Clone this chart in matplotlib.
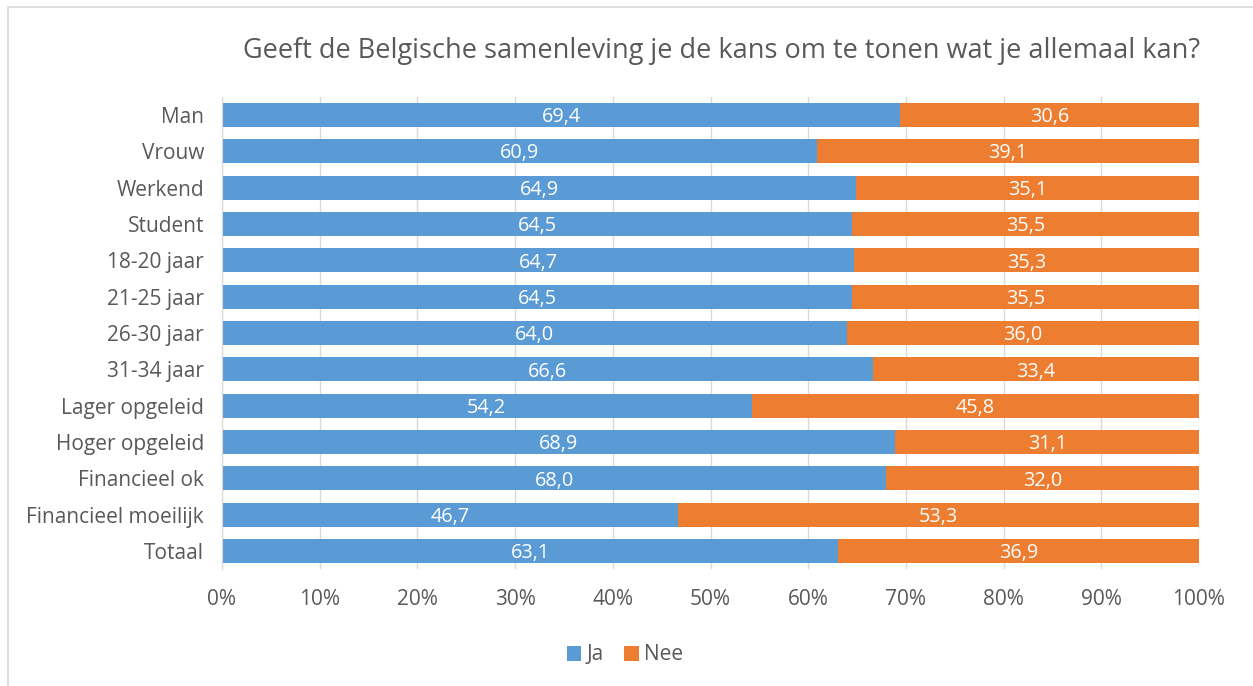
import matplotlib.pyplot as plt
from matplotlib.patches import Rectangle
from matplotlib.ticker import FuncFormatter

categories = ["Man", "Vrouw", "Werkend", "Student", "18-20 jaar", "21-25 jaar",
              "26-30 jaar", "31-34 jaar", "Lager opgeleid", "Hoger opgeleid",
              "Financieel ok", "Financieel moeilijk", "Totaal"]
ja = [69.4, 60.9, 64.9, 64.5, 64.7, 64.5, 64.0, 66.6, 54.2, 68.9, 68.0, 46.7, 63.1]
nee = [30.6, 39.1, 35.1, 35.5, 35.3, 35.5, 36.0, 33.4, 45.8, 31.1, 32.0, 53.3, 36.9]
title = "Geeft de Belgische samenleving je de kans om te tonen wat je allemaal kan?"

W, H = 1253, 686
fig = plt.figure(figsize=(W / 100, H / 100), dpi=100)
plt.rcParams['font.family'] = ['Open Sans', 'DejaVu Sans']
txt = '#595959'
blue = '#5B9BD5'
orange = '#ED7D31'

# border
fig.patches.append(Rectangle((8 / W, -0.01), 1.02, (H - 7) / H + 0.01, transform=fig.transFigure,
                             fill=False, edgecolor='#D9D9D9', linewidth=1.2))

left, right = 222 / W, 1199 / W
top, bottom = 96.8 / H, 569.2 / H
ax = fig.add_axes([left, 1 - bottom, right - left, bottom - top])

y = list(range(len(categories)))
bj = ax.barh(y, ja, height=0.66, color=blue, zorder=3)
bn = ax.barh(y, nee, left=ja, height=0.66, color=orange, zorder=3)

for i in y:
    ax.text(ja[i] / 2, i + 0.06, f"{ja[i]:.1f}".replace('.', ','), ha='center', va='center',
            color='white', fontsize=14.3, zorder=4)
    ax.text(ja[i] + nee[i] / 2, i + 0.06, f"{nee[i]:.1f}".replace('.', ','), ha='center',
            va='center', color='white', fontsize=14.3, zorder=4)

ax.set_xlim(0, 100)
ax.set_ylim(len(categories) - 0.5, -0.5)
ax.set_yticks(y)
ax.set_yticklabels(categories)
ax.set_xticks(range(0, 101, 10))
ax.xaxis.set_major_formatter(FuncFormatter(lambda v, p: f"{int(v)}%"))
ax.tick_params(axis='both', length=0, colors=txt, labelsize=15)
ax.tick_params(axis='x', pad=14)
ax.tick_params(axis='y', pad=13)
ax.grid(axis='x', color='#D9D9D9', linewidth=1, zorder=0)
for s in ['top', 'right', 'bottom']:
    ax.spines[s].set_visible(False)
ax.spines['left'].set_color('#D9D9D9')
ax.spines['left'].set_zorder(5)

fig.text(722 / W, 1 - 51 / H, title, ha='center', va='center', fontsize=19.5, color=txt)

fig.legend([bj, bn], ["Ja", "Nee"], loc='center', bbox_to_anchor=(625 / W, 1 - 655 / H),
           ncol=2, frameon=False, fontsize=15, labelcolor=txt, handlelength=0.7,
           handleheight=0.7, handletextpad=0.25, columnspacing=1.0)

fig.savefig("out.png", dpi=100, facecolor='white')
